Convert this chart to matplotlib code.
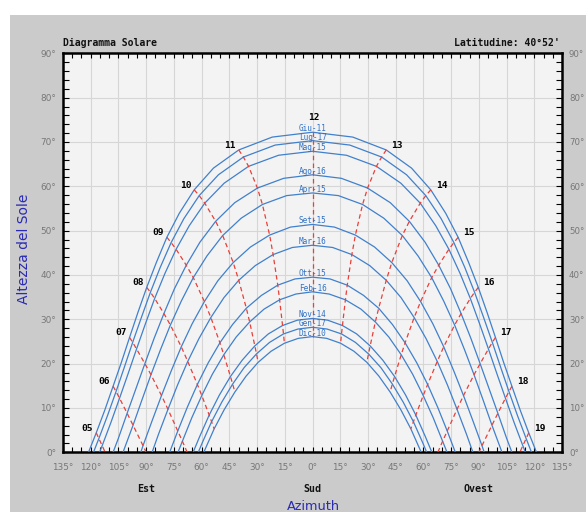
import numpy as np
import matplotlib
matplotlib.use('Agg')
import matplotlib.pyplot as plt
from matplotlib.patches import Rectangle
from matplotlib.ticker import MultipleLocator, FuncFormatter

nan = float('nan')

# ---------------- data ----------------
title_left = "Diagramma Solare"
title_right = "Latitudine: 40°52'"
dates = ['Giu-11', 'Lug-17', 'Mag-15', 'Ago-16', 'Apr-15', 'Set-15',
         'Mar-16', 'Ott-15', 'Feb-16', 'Nov-14', 'Gen-17', 'Dic-10']
# half-hour slots of solar time 4:30 ... 19:30
slot_times = [4.5, 5.0, 5.5, 6.0, 6.5, 7.0, 7.5, 8.0, 8.5, 9.0, 9.5, 10.0, 10.5, 11.0, 11.5, 12.0,
              12.5, 13.0, 13.5, 14.0, 14.5, 15.0, 15.5, 16.0, 16.5, 17.0, 17.5, 18.0, 18.5, 19.0, 19.5]

alt_giu = [nan, 4.4, 9.5, 14.9, 20.3, 25.9, 31.5, 37.2, 42.8, 48.5, 53.9, 59.2, 64.1, 68.2, 71.1, 72.2, 71.1, 68.2, 64.1, 59.2, 53.9, 48.5, 42.8, 37.2, 31.5, 25.9, 20.3, 14.9, 9.5, 4.4, nan]
az_giu = [nan, -117.0, -112.4, -107.9, -103.4, -99.0, -94.5, -89.7, -84.5, -78.8, -72.1, -64.0, -53.6, -39.9, -21.8, 0.0, 21.8, 39.9, 53.6, 64.0, 72.1, 78.8, 84.5, 89.7, 94.5, 99.0, 103.4, 107.9, 112.4, 117.0, nan]
alt_lug = [nan, 3.1, 8.3, 13.7, 19.2, 24.8, 30.4, 36.1, 41.7, 47.3, 52.7, 57.9, 62.6, 66.6, 69.3, 70.3, 69.3, 66.6, 62.6, 57.9, 52.7, 47.3, 41.7, 36.1, 30.4, 24.8, 19.2, 13.7, 8.3, 3.1, nan]
az_lug = [nan, -115.6, -110.9, -106.3, -101.8, -97.3, -92.6, -87.7, -82.4, -76.5, -69.6, -61.3, -50.9, -37.4, -20.2, 0.0, 20.2, 37.4, 50.9, 61.3, 69.6, 76.5, 82.4, 87.7, 92.6, 97.3, 101.8, 106.3, 110.9, 115.6, nan]
alt_mag = [nan, 1.5, 6.7, 12.2, 17.7, 23.3, 29.0, 34.7, 40.3, 45.8, 51.1, 56.2, 60.7, 64.5, 67.0, 67.9, 67.0, 64.5, 60.7, 56.2, 51.1, 45.8, 40.3, 34.7, 29.0, 23.3, 17.7, 12.2, 6.7, 1.5, nan]
az_mag = [nan, -113.8, -109.1, -104.4, -99.8, -95.2, -90.4, -85.4, -79.9, -73.8, -66.7, -58.3, -47.8, -34.6, -18.4, 0.0, 18.4, 34.6, 47.8, 58.3, 66.7, 73.8, 79.9, 85.4, 90.4, 95.2, 99.8, 104.4, 109.1, 113.8, nan]
alt_ago = [nan, nan, 3.2, 8.8, 14.4, 20.0, 25.7, 31.3, 36.9, 42.2, 47.4, 52.1, 56.3, 59.6, 61.8, 62.6, 61.8, 59.6, 56.3, 52.1, 47.4, 42.2, 36.9, 31.3, 25.7, 20.0, 14.4, 8.8, 3.2, nan, nan]
az_ago = [nan, nan, -105.0, -100.3, -95.5, -90.7, -85.7, -80.4, -74.7, -68.3, -60.9, -52.4, -42.1, -29.8, -15.6, 0.0, 15.6, 29.8, 42.1, 52.4, 60.9, 68.3, 74.7, 80.4, 85.7, 90.7, 95.5, 100.3, 105.0, nan, nan]
alt_apr = [nan, nan, 0.6, 6.1, 11.8, 17.5, 23.1, 28.7, 34.1, 39.4, 44.3, 48.9, 52.8, 55.9, 57.9, 58.5, 57.9, 55.9, 52.8, 48.9, 44.3, 39.4, 34.1, 28.7, 23.1, 17.5, 11.8, 6.1, 0.6, nan, nan]
az_apr = [nan, nan, -102.0, -97.1, -92.3, -87.4, -82.3, -76.9, -71.0, -64.5, -57.1, -48.6, -38.6, -27.1, -14.0, 0.0, 14.0, 27.1, 38.6, 48.6, 57.1, 64.5, 71.0, 76.9, 82.3, 87.4, 92.3, 97.1, 102.0, nan, nan]
alt_set = [nan, nan, nan, 1.5, 7.1, 12.8, 18.3, 23.8, 29.0, 34.0, 38.7, 42.8, 46.3, 49.0, 50.8, 51.4, 50.8, 49.0, 46.3, 42.8, 38.7, 34.0, 29.0, 23.8, 18.3, 12.8, 7.1, 1.5, nan, nan, nan]
az_set = [nan, nan, nan, -91.7, -86.8, -81.7, -76.5, -71.0, -65.1, -58.5, -51.2, -42.9, -33.6, -23.2, -11.9, 0.0, 11.9, 23.2, 33.6, 42.9, 51.2, 58.5, 65.1, 71.0, 76.5, 81.7, 86.8, 91.7, nan, nan, nan]
alt_mar = [nan, nan, nan, nan, 4.1, 9.7, 15.2, 20.5, 25.6, 30.4, 34.9, 38.8, 42.1, 44.6, 46.2, 46.7, 46.2, 44.6, 42.1, 38.8, 34.9, 30.4, 25.6, 20.5, 15.2, 9.7, 4.1, nan, nan, nan, nan]
az_mar = [nan, nan, nan, nan, -83.3, -78.2, -73.0, -67.5, -61.5, -55.0, -47.9, -39.9, -31.0, -21.3, -10.9, 0.0, 10.9, 21.3, 31.0, 39.9, 47.9, 55.0, 61.5, 67.5, 73.0, 78.2, 83.3, nan, nan, nan, nan]
alt_ott = [nan, nan, nan, nan, nan, 4.8, 10.2, 15.3, 20.2, 24.7, 28.8, 32.5, 35.4, 37.7, 39.1, 39.5, 39.1, 37.7, 35.4, 32.5, 28.8, 24.7, 20.2, 15.3, 10.2, 4.8, nan, nan, nan, nan, nan]
az_ott = [nan, nan, nan, nan, nan, -72.9, -67.7, -62.3, -56.4, -50.1, -43.3, -35.8, -27.6, -18.8, -9.5, 0.0, 9.5, 18.8, 27.6, 35.8, 43.3, 50.1, 56.4, 62.3, 67.7, 72.9, nan, nan, nan, nan, nan]
alt_feb = [nan, nan, nan, nan, nan, 2.5, 7.8, 12.8, 17.6, 22.0, 26.0, 29.4, 32.3, 34.4, 35.7, 36.2, 35.7, 34.4, 32.3, 29.4, 26.0, 22.0, 17.6, 12.8, 7.8, 2.5, nan, nan, nan, nan, nan]
az_feb = [nan, nan, nan, nan, nan, -70.4, -65.3, -59.9, -54.2, -48.0, -41.3, -34.0, -26.2, -17.8, -9.0, 0.0, 9.0, 17.8, 26.2, 34.0, 41.3, 48.0, 54.2, 59.9, 65.3, 70.4, nan, nan, nan, nan, nan]
alt_nov = [nan, nan, nan, nan, nan, nan, 3.5, 8.4, 12.9, 17.1, 20.8, 24.0, 26.7, 28.6, 29.8, 30.2, 29.8, 28.6, 26.7, 24.0, 20.8, 17.1, 12.9, 8.4, 3.5, nan, nan, nan, nan, nan, nan]
az_nov = [nan, nan, nan, nan, nan, nan, -61.1, -55.9, -50.4, -44.4, -38.0, -31.2, -23.9, -16.2, -8.2, 0.0, 8.2, 16.2, 23.9, 31.2, 38.0, 44.4, 50.4, 55.9, 61.1, nan, nan, nan, nan, nan, nan]
alt_gen = [nan, nan, nan, nan, nan, nan, 2.1, 6.9, 11.3, 15.4, 19.1, 22.2, 24.8, 26.7, 27.8, 28.2, 27.8, 26.7, 24.8, 22.2, 19.1, 15.4, 11.3, 6.9, 2.1, nan, nan, nan, nan, nan, nan]
az_gen = [nan, nan, nan, nan, nan, nan, -59.7, -54.6, -49.1, -43.2, -37.0, -30.3, -23.2, -15.7, -7.9, 0.0, 7.9, 15.7, 23.2, 30.3, 37.0, 43.2, 49.1, 54.6, 59.7, nan, nan, nan, nan, nan, nan]
alt_dic = [nan, nan, nan, nan, nan, nan, 0.6, 5.3, 9.6, 13.6, 17.2, 20.3, 22.8, 24.6, 25.7, 26.1, 25.7, 24.6, 22.8, 20.3, 17.2, 13.6, 9.6, 5.3, 0.6, nan, nan, nan, nan, nan, nan]
az_dic = [nan, nan, nan, nan, nan, nan, -58.2, -53.2, -47.8, -42.0, -35.9, -29.4, -22.4, -15.2, -7.7, 0.0, 7.7, 15.2, 22.4, 29.4, 35.9, 42.0, 47.8, 53.2, 58.2, nan, nan, nan, nan, nan, nan]

# azimuth of sunrise / sunset (altitude 0) for each date
rise_az = [-121.2, -118.5, -115.2, -107.9, -102.5, -92.9, -86.8, -77.3, -72.8, -64.6, -61.8, -58.8]
set_az = [121.2, 118.5, 115.2, 107.9, 102.5, 92.9, 86.8, 77.3, 72.8, 64.6, 61.8, 58.8]

# hour lines; where an hour line reaches the horizon
hours = [5, 6, 7, 8, 9, 10, 11, 12, 13, 14, 15, 16, 17, 18, 19]
hour_horizon_az = {5: -112.2, 6: -90.0, 7: -67.8, 17: 67.8, 18: 90.0, 19: 112.2}

x_ticks = list(range(-135, 136, 15))
y_ticks = list(range(0, 91, 10))
dir_labels = ['Est', 'Sud', 'Ovest']
dir_pos = [-90, 0, 90]

ALT = [alt_giu, alt_lug, alt_mag, alt_ago, alt_apr, alt_set, alt_mar, alt_ott, alt_feb, alt_nov, alt_gen, alt_dic]
AZ = [az_giu, az_lug, az_mag, az_ago, az_apr, az_set, az_mar, az_ott, az_feb, az_nov, az_gen, az_dic]

# ---------------- style ----------------
W, H, DPI = 586, 512, 100
BG = '#cbcbcb'
PLOT_BG = '#f3f3f3'
GRID = '#d6d6d6'
BLUE = '#4080cc'
BLUE_TXT = '#3070c4'
RED = '#e8403a'
NAVY = '#2a2ab4'
TICKC = '#777777'
MONO = 'DejaVu Sans Mono'

fig = plt.figure(figsize=(W / DPI, H / DPI), dpi=DPI, facecolor='white')
fig.patches.append(Rectangle((10 / W, 0), 1 - 10 / W, (H - 15) / H, transform=fig.transFigure,
                             facecolor=BG, edgecolor='none', zorder=-10))

ax_l, ax_r, ax_t, ax_b = 63, 562, 53.3, 452.3
ax = fig.add_axes([ax_l / W, (H - ax_b) / H, (ax_r - ax_l) / W, (ax_b - ax_t) / H])
ax.set_facecolor(PLOT_BG)
ax.set_xlim(-135, 135)
ax.set_ylim(0, 90)

ax.xaxis.set_major_locator(MultipleLocator(15))
ax.xaxis.set_minor_locator(MultipleLocator(5))
ax.yaxis.set_major_locator(MultipleLocator(10))
ax.yaxis.set_minor_locator(MultipleLocator(2))
ax.set_xticks(x_ticks)
ax.set_yticks(y_ticks)
ax.xaxis.set_major_formatter(FuncFormatter(lambda v, p: f"{abs(v):.0f}°"))
ax.yaxis.set_major_formatter(FuncFormatter(lambda v, p: f"{v:.0f}°"))
ax.tick_params(axis='both', which='both', direction='in', color='black', width=0.8)
ax.tick_params(axis='x', which='both', top=True, bottom=True, length=3.6)
ax.tick_params(axis='y', which='both', left=True, right=True, labelright=True, length=4.6)
ax.tick_params(axis='x', which='major', labelsize=6.4, labelcolor=TICKC, pad=8)
ax.tick_params(axis='y', which='major', labelsize=6.4, labelcolor=TICKC, pad=7.2)
ax.tick_params(axis='y', which='major', labelright=True, pad=7.2)
for t in ax.yaxis.get_major_ticks():
    t.set_pad(7.2)
ax.grid(True, which='major', color=GRID, linewidth=0.8, zorder=0)
ax.set_axisbelow(True)
for s in ax.spines.values():
    s.set_linewidth(1.8)
    s.set_color('black')

px = 72.0 / DPI  # one pixel in points

# date curves
for i, name in enumerate(dates):
    xs = [rise_az[i]]
    ys = [0.0]
    for a, z in zip(ALT[i], AZ[i]):
        if not np.isnan(a):
            xs.append(z)
            ys.append(a)
    xs.append(set_az[i])
    ys.append(0.0)
    ax.plot(xs, ys, color=BLUE, linewidth=0.9, zorder=3, solid_joinstyle='round')
    noon = ALT[i][slot_times.index(12.0)]
    ax.annotate(name, (0, noon), xytext=(0, 1.0 * px), textcoords='offset points',
                ha='center', va='baseline', fontsize=5.6, family=MONO, color=BLUE_TXT, zorder=5)

# hour lines
for h in hours:
    k = slot_times.index(float(h))
    xs, ys = [], []
    for i in range(len(dates)):
        if not np.isnan(ALT[i][k]):
            xs.append(AZ[i][k])
            ys.append(ALT[i][k])
    if h in hour_horizon_az:
        xs.append(hour_horizon_az[h])
        ys.append(0.0)
    ax.plot(xs, ys, color=RED, linewidth=0.9, linestyle=(0, (3.6, 2.6)), zorder=4)
    lab = f"{h:02d}"
    if h < 12:
        ax.annotate(lab, (xs[0], ys[0]), xytext=(-3 * px, 4.5 * px), textcoords='offset points',
                    ha='right', va='center', fontsize=6.8, family=MONO, weight='bold', color='black')
    elif h > 12:
        ax.annotate(lab, (xs[0], ys[0]), xytext=(5 * px, 4.5 * px), textcoords='offset points',
                    ha='left', va='center', fontsize=6.8, family=MONO, weight='bold', color='black')
    else:
        ax.annotate(lab, (xs[0], ys[0]), xytext=(1.5 * px, 15 * px), textcoords='offset points',
                    ha='center', va='center', fontsize=6.8, family=MONO, weight='bold', color='black')

# right-hand altitude labels placed a little closer so they stay inside the picture
for t in ax.yaxis.get_major_ticks():
    t.label2.set_fontsize(6.2)
ax.tick_params(axis='y', which='major', pad=5.0)
for t in ax.yaxis.get_major_ticks():
    t.label1.set_fontsize(6.4)

# titles
fig.text(63 / W, 1 - 46 / H, title_left, ha='left', va='baseline', fontsize=7, family=MONO,
         weight='bold', color='#111111')
fig.text(560 / W, 1 - 46 / H, title_right, ha='right', va='baseline', fontsize=7, family=MONO,
         weight='bold', color='#111111')

# direction labels
for lab, pos in zip(dir_labels, dir_pos):
    xf = (ax_l + (pos + 135) / 270 * (ax_r - ax_l)) / W
    fig.text(xf, 1 - 489 / H, lab, ha='center', va='center', fontsize=7.2, family=MONO,
             weight='bold', color='#111111')

fig.text(313.5 / W, 1 - 506 / H, 'Azimuth', ha='center', va='center', fontsize=9.3,
         color=NAVY)
fig.text(24 / W, 1 - 249 / H, 'Altezza del Sole', ha='center', va='center', fontsize=10,
         rotation=90, color=NAVY)

fig.savefig('out.png', dpi=DPI, facecolor=fig.get_facecolor())
